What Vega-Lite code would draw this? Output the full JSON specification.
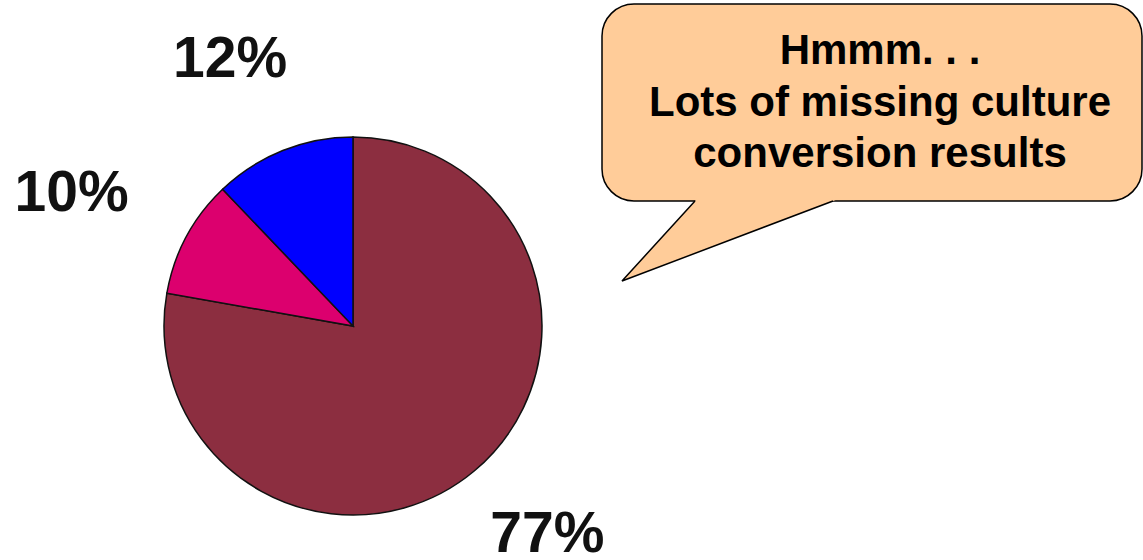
{
  "$schema": "https://vega.github.io/schema/vega-lite/v6.json",
  "width": 1143,
  "height": 560,
  "autosize": {"type": "none"},
  "padding": 0,
  "background": "white",
  "config": {"view": {"stroke": null}},
  "data": {"values": [{}]},
  "datasets": {
    "pie": [
      {"label": "77%", "value": 77, "rank": 1},
      {"label": "10%", "value": 10, "rank": 2},
      {"label": "12%", "value": 12, "rank": 3}
    ],
    "tailFill": [
      {"x": 622, "y": 281, "y2": 281},
      {"x": 697.7, "y": 198, "y2": 252.3},
      {"x": 840.9, "y": 198, "y2": 198}
    ],
    "tailLine": [
      {"x": 695, "y": 201, "i": 1},
      {"x": 622, "y": 281, "i": 2},
      {"x": 833, "y": 201, "i": 3}
    ]
  },
  "layer": [
    {
      "data": {"name": "pie"},
      "mark": {"type": "arc", "radius": 189, "stroke": "#111111", "strokeWidth": 1.5},
      "encoding": {
        "x": {"datum": 353, "type": "quantitative", "scale": {"domain": [0, 1143], "nice": false, "zero": false}, "axis": null},
        "y": {"datum": 326, "type": "quantitative", "scale": {"domain": [0, 560], "nice": false, "zero": false, "reverse": true}, "axis": null},
        "theta": {"field": "value", "type": "quantitative", "stack": true},
        "order": {"field": "rank", "type": "quantitative"},
        "color": {"field": "label", "type": "nominal", "scale": {"domain": ["77%", "10%", "12%"], "range": ["#8C2E40", "#DC006E", "#0000FF"]}, "legend": null}
      }
    },
    {
      "data": {"name": "pie"},
      "mark": {"type": "text", "radius": 293, "thetaOffset": -0.052, "font": "Liberation Sans", "fontWeight": "bold", "fontSize": 57, "align": "center", "baseline": "middle", "color": "#111111"},
      "encoding": {
        "x": {"datum": 353, "type": "quantitative", "axis": null},
        "y": {"datum": 326, "type": "quantitative", "axis": null},
        "theta": {"field": "value", "type": "quantitative", "stack": true},
        "order": {"field": "rank", "type": "quantitative"},
        "text": {"field": "label", "type": "nominal"},
        "opacity": {"condition": {"test": "datum.label === '12%'", "value": 1}, "value": 0}
      }
    },
    {
      "data": {"name": "pie"},
      "mark": {"type": "text", "radius": 311, "thetaOffset": -0.052, "font": "Liberation Sans", "fontWeight": "bold", "fontSize": 57, "align": "center", "baseline": "middle", "color": "#111111"},
      "encoding": {
        "x": {"datum": 353, "type": "quantitative", "axis": null},
        "y": {"datum": 326, "type": "quantitative", "axis": null},
        "theta": {"field": "value", "type": "quantitative", "stack": true},
        "order": {"field": "rank", "type": "quantitative"},
        "text": {"field": "label", "type": "nominal"},
        "opacity": {"condition": {"test": "datum.label === '10%'", "value": 1}, "value": 0}
      }
    },
    {
      "data": {"name": "pie"},
      "mark": {"type": "text", "radius": 285, "thetaOffset": -0.052, "font": "Liberation Sans", "fontWeight": "bold", "fontSize": 57, "align": "center", "baseline": "middle", "color": "#111111"},
      "encoding": {
        "x": {"datum": 353, "type": "quantitative", "axis": null},
        "y": {"datum": 326, "type": "quantitative", "axis": null},
        "theta": {"field": "value", "type": "quantitative", "stack": true},
        "order": {"field": "rank", "type": "quantitative"},
        "text": {"field": "label", "type": "nominal"},
        "opacity": {"condition": {"test": "datum.label === '77%'", "value": 1}, "value": 0}
      }
    },
    {
      "mark": {"type": "rect", "fill": "#FFCC99", "stroke": "#000000", "strokeWidth": 1.5, "cornerRadius": 32},
      "encoding": {
        "x": {"datum": 602, "type": "quantitative", "axis": null},
        "x2": {"datum": 1142},
        "y": {"datum": 4, "type": "quantitative", "axis": null},
        "y2": {"datum": 201}
      }
    },
    {
      "data": {"name": "tailFill"},
      "mark": {"type": "area", "orient": "vertical", "fill": "#FFCC99", "opacity": 1},
      "encoding": {
        "x": {"field": "x", "type": "quantitative", "axis": null},
        "y": {"field": "y", "type": "quantitative", "axis": null},
        "y2": {"field": "y2"}
      }
    },
    {
      "data": {"name": "tailLine"},
      "mark": {"type": "line", "color": "#000000", "strokeWidth": 1.5},
      "encoding": {
        "x": {"field": "x", "type": "quantitative", "axis": null},
        "y": {"field": "y", "type": "quantitative", "axis": null},
        "order": {"field": "i", "type": "quantitative"}
      }
    },
    {
      "mark": {"type": "text", "text": ["Hmmm. . .", "Lots of missing culture", "conversion results"], "lineHeight": 51.5, "font": "Liberation Sans", "fontWeight": "bold", "fontSize": 42, "align": "center", "baseline": "alphabetic", "color": "#000000"},
      "encoding": {
        "x": {"datum": 880, "type": "quantitative", "axis": null},
        "y": {"datum": 64, "type": "quantitative", "axis": null}
      }
    }
  ]
}
